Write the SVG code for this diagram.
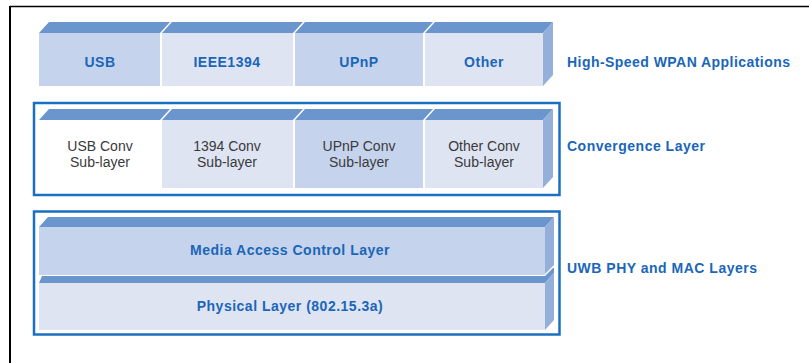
<svg xmlns="http://www.w3.org/2000/svg" width="809" height="363" viewBox="0 0 809 363">
<style>
.top{fill:#6a96cd}
.side{fill:#94b0da}
.mid{fill:#c6d3ec}
.lt{fill:#dfe4f3}
.wh{fill:#ffffff}
.frame{fill:none;stroke:#1b6fc1;stroke-width:2.5}
.lbl{font-family:"Liberation Sans",Arial,sans-serif;font-weight:bold;font-size:14px;fill:#1a66b8;text-anchor:middle;letter-spacing:0.5px}
.reg{font-family:"Liberation Sans",Arial,sans-serif;font-size:14px;fill:#3a3a3a;text-anchor:middle}
.cap{font-family:"Liberation Sans",Arial,sans-serif;font-weight:bold;font-size:14px;fill:#1a66b8}
</style>
<rect width="809" height="363" fill="#ffffff"/>
<g id="border">
<line x1="10" y1="6.5" x2="809" y2="6.5" stroke="#000" stroke-width="1.6"/>
<line x1="10" y1="6" x2="10" y2="363" stroke="#000" stroke-width="2"/>
</g>
<g id="apps">
<g id="usb">
<polygon class="top" points="39,33 49,22 170,22 160,33"/>
<rect class="mid" x="39" y="33" width="121" height="53"/>
<text class="lbl" x="100" y="66.5">USB</text>
</g>
<g id="ieee1394">
<polygon class="top" points="162,33 172,22 303,22 293,33"/>
<rect class="lt" x="162" y="33" width="131" height="53"/>
<text class="lbl" x="227" y="66.5">IEEE1394</text>
</g>
<g id="upnp">
<polygon class="top" points="295,33 305,22 433,22 423,33"/>
<rect class="mid" x="295" y="33" width="128" height="53"/>
<text class="lbl" x="359" y="66.5">UPnP</text>
</g>
<g id="other">
<polygon class="top" points="425,33 435,22 553,22 543,33"/>
<rect class="lt" x="425" y="33" width="118" height="53"/>
<polygon class="side" points="543,33 553,22 553,75 543,86"/>
<text class="lbl" x="484" y="66.5">Other</text>
</g>
</g>
<g id="convergence">
<rect class="frame" x="34" y="103" width="525.5" height="92"/>
<g id="usbconv">
<polygon class="top" points="39,120 49,109 170,109 160,120"/>
<rect class="wh" x="39" y="120" width="121" height="68"/>
<text class="reg" x="100" y="150.5">USB Conv</text>
<text class="reg" x="100" y="166.5">Sub-layer</text>
</g>
<g id="conv1394">
<polygon class="top" points="162,120 172,109 303,109 293,120"/>
<rect class="lt" x="162" y="120" width="131" height="68"/>
<text class="reg" x="227" y="150.5">1394 Conv</text>
<text class="reg" x="227" y="166.5">Sub-layer</text>
</g>
<g id="upnpconv">
<polygon class="top" points="295,120 305,109 433,109 423,120"/>
<rect class="mid" x="295" y="120" width="128" height="68"/>
<text class="reg" x="359" y="150.5">UPnP Conv</text>
<text class="reg" x="359" y="166.5">Sub-layer</text>
</g>
<g id="otherconv">
<polygon class="top" points="425,120 435,109 553,109 543,120"/>
<rect class="lt" x="425" y="120" width="118" height="68"/>
<polygon class="side" points="543,120 553,109 553,177 543,188"/>
<text class="reg" x="484" y="150.5">Other Conv</text>
<text class="reg" x="484" y="166.5">Sub-layer</text>
</g>
</g>
<g id="uwb">
<rect class="frame" x="34" y="211.5" width="525.5" height="123"/>
<g id="mac">
<polygon class="top" points="39,227 48,217 554,217 545,227"/>
<rect class="mid" x="39" y="227" width="506" height="48"/>
<polygon class="side" points="545,227 554,217 554,265 545,274"/>
<text class="lbl" x="290" y="255">Media Access Control Layer</text>
</g>
<g id="phy">
<polygon class="top" points="39,283 42,276 545,276 553,268 554,268 554,273 545,283"/>
<rect class="lt" x="39" y="283" width="506" height="47"/>
<polygon class="side" points="545,283 554,273 554,320 545,330"/>
<text class="lbl" x="290" y="311">Physical Layer (802.15.3a)</text>
</g>
</g>
<g id="captions">
<text class="cap" x="567" y="67" textLength="223" lengthAdjust="spacing">High-Speed WPAN Applications</text>
<text class="cap" x="567" y="151" textLength="138" lengthAdjust="spacing">Convergence Layer</text>
<text class="cap" x="567" y="273" textLength="190" lengthAdjust="spacing">UWB PHY and MAC Layers</text>
</g>
</svg>
